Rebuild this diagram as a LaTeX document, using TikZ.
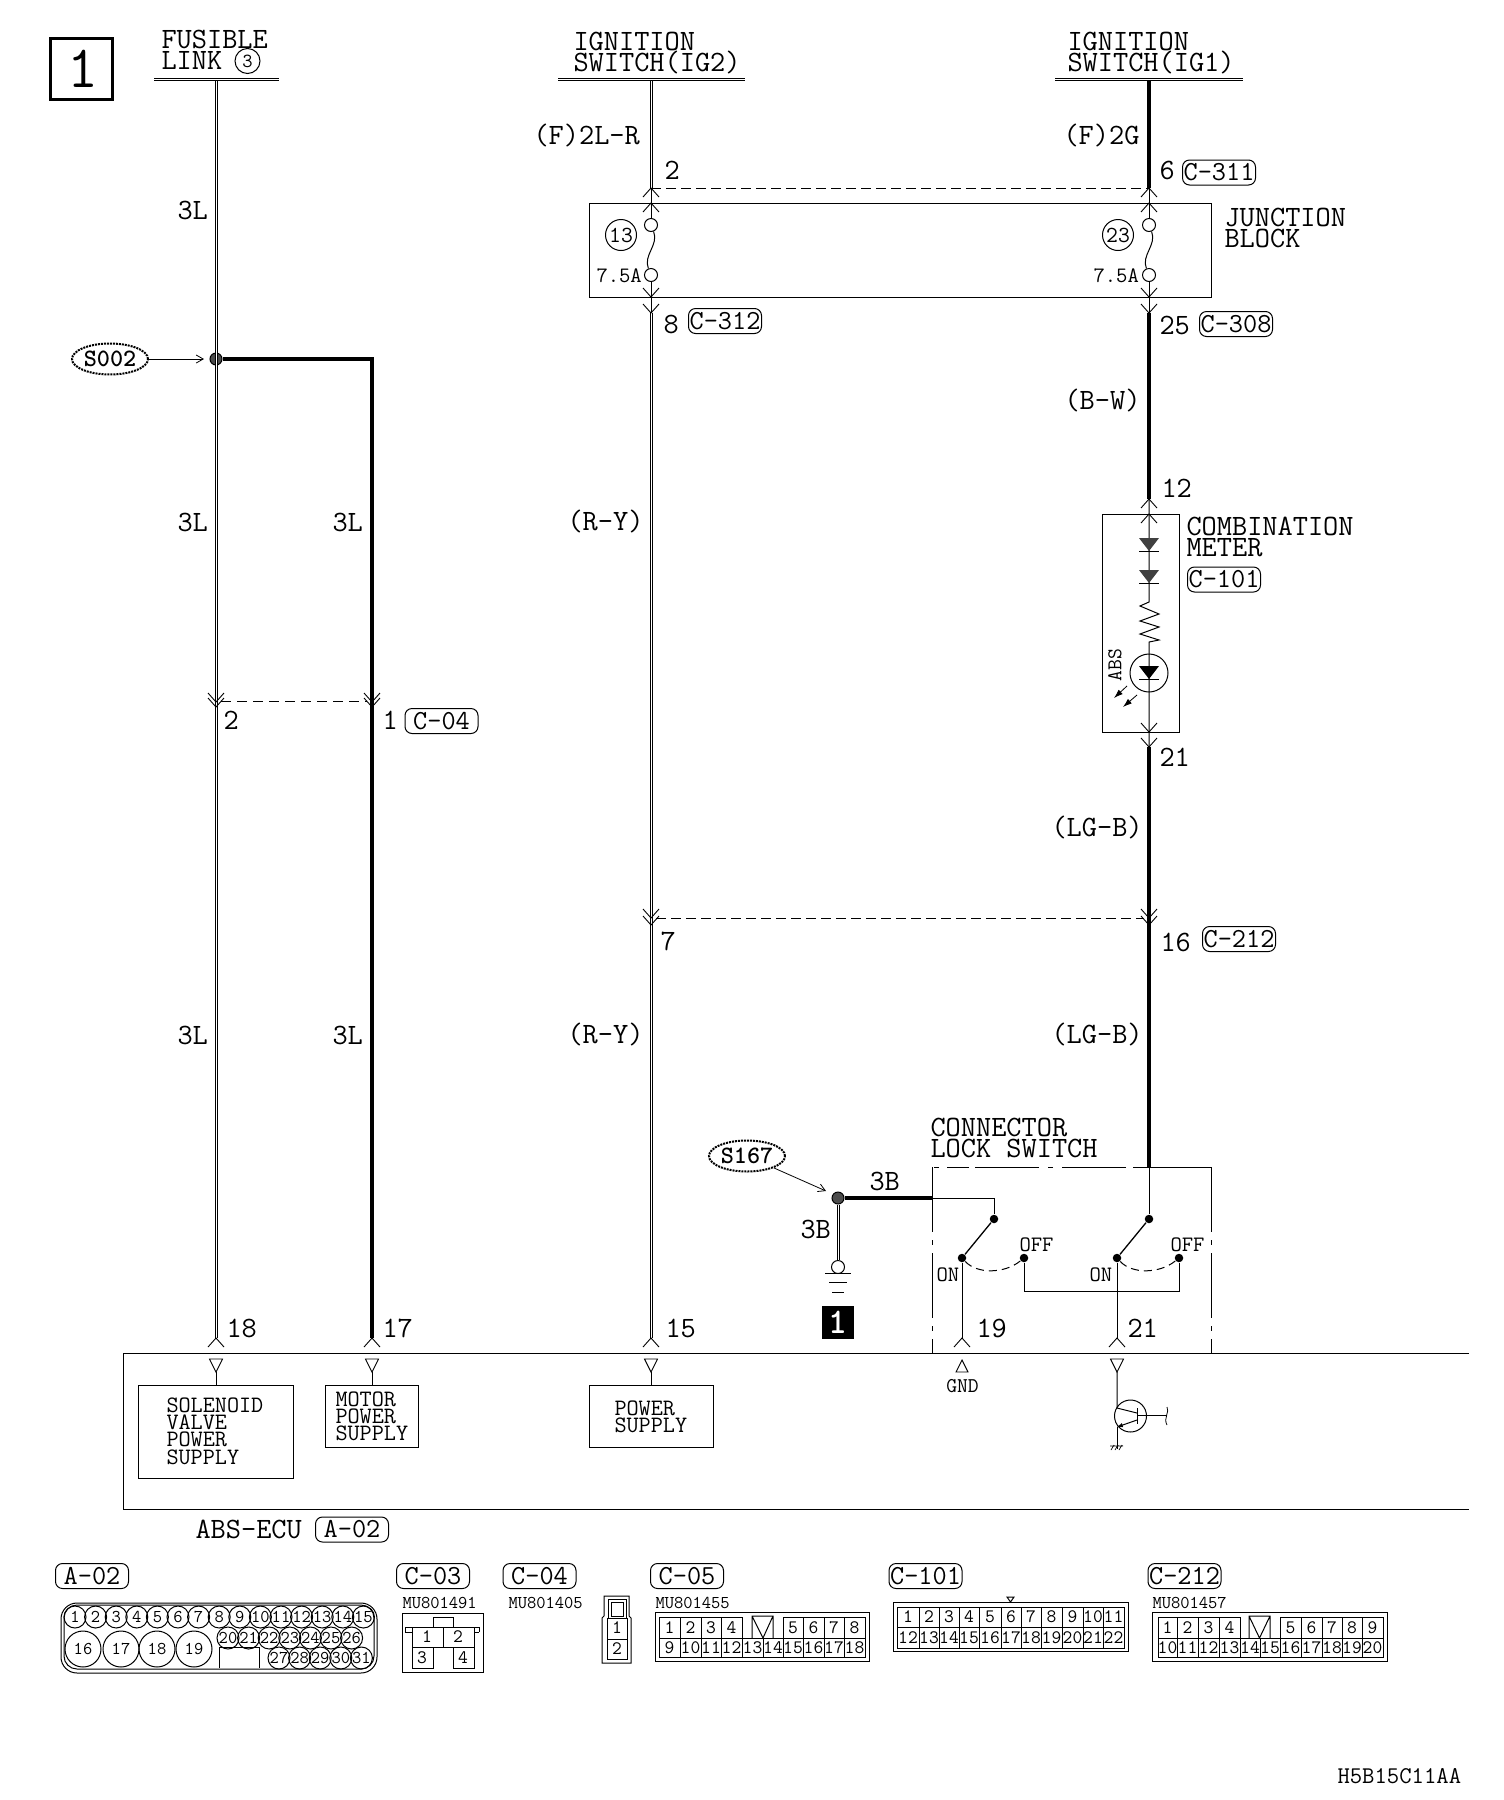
\documentclass[tikz,border=0pt]{standalone}
\usepackage{amsmath, amssymb}
\usetikzlibrary{shapes.geometric, arrows.meta}

\tikzset{
    lbl/.style={anchor=north west, inner sep=0pt, align=left, font=\fontsize{29.5}{21}\selectfont\ttfamily},
    lblsmall/.style={anchor=north west, inner sep=0pt, align=left, font=\fontsize{23.5}{17.3}\selectfont\ttfamily},
    lblcode/.style={anchor=north west, inner sep=0pt, font=\fontsize{18}{18}\selectfont\ttfamily},
    tagbox/.style={draw, rounded corners=7pt, inner sep=0pt, minimum width=73pt, minimum height=25pt, font=\fontsize{27.5}{27}\selectfont\ttfamily},
    splice/.style={draw, ellipse, densely dotted, line width=2pt, inner sep=0pt, minimum width=76pt, minimum height=31pt, font=\fontsize{25}{25}\selectfont\ttfamily\bfseries},
    jointdot/.style={draw, circle, fill=black!70, inner sep=0pt, minimum size=12pt},
    contact/.style={circle, fill=black, inner sep=0pt, minimum size=8.5pt},
    fuseend/.style={draw, circle, inner sep=0pt, minimum size=13pt},
    ringnum/.style={draw, circle, inner sep=0pt, minimum size=31pt, font=\fontsize{23}{23}\selectfont\ttfamily},
    wirepair/.style={double, double distance=0.6pt, line width=1.2pt},
    wirefull/.style={line width=4pt},
    wirethin/.style={line width=1pt},
    boxline/.style={line width=1pt},
    pinnum/.style={inner sep=0pt, font=\fontsize{19}{19}\selectfont\ttfamily},
    pinsmall/.style={draw, circle, inner sep=0pt, minimum size=22pt, font=\fontsize{18}{18}\selectfont\ttfamily},
    pinbig/.style={draw, circle, inner sep=0pt, minimum size=36pt, font=\fontsize{18}{18}\selectfont\ttfamily},
    sidedash/.style={dash pattern=on 65pt off 8pt on 5pt off 8pt},
    pics/pinup/.style={code={\draw[line width=0.9pt] (-8,9) -- (0,0) -- (8,9);}},
    pics/pindown/.style={code={\draw[line width=0.9pt] (-8,-9) -- (0,0) -- (8,-9);}},
    pics/tridown/.style={code={\draw[line width=0.9pt] (-6.5,0) -- (6.5,0) -- (0,13) -- cycle;}},
}

\begin{document}
\begin{tikzpicture}[x=1pt, y=-1pt, line width=1pt]
    \useasboundingbox (0,0) rectangle (1504,1800);

    % page number box
    \node[draw, line width=3pt, minimum width=62pt, minimum height=61pt, inner sep=0pt] (pagebox) at (81.5,69) {};
    \node[inner sep=0pt, font=\fontsize{60}{60}\selectfont\ttfamily] (pagenum) at (83,69) {1};

    % supply headers
    \node[lbl] (hfuse) at (161,30) {FUSIBLE\\LINK};
    \node[draw, circle, inner sep=0pt, minimum size=25pt, font=\fontsize{20}{20}\selectfont\ttfamily] (ring3) at (247.5,61) {3};
    \node[lbl] (hign2) at (573,32) {IGNITION\\SWITCH(IG2)};
    \node[lbl] (hign1) at (1067,32) {IGNITION\\SWITCH(IG1)};
    \draw[double, double distance=1.5pt, line width=1pt] (154,79.5) coordinate (busa) -- (279,79.5);
    \draw[double, double distance=1.5pt, line width=1pt] (558,79.5) -- (745,79.5);
    \draw[double, double distance=1.5pt, line width=1pt] (1055,79.5) -- (1243,79.5);

    \coordinate (wa0) at (216,81);
    \coordinate (wa1) at (216,1338);
    \coordinate (wb0) at (372,359);
    \coordinate (wb1) at (372,1338);
    \coordinate (wc0) at (651,81);
    \coordinate (wc1) at (651,188);
    \coordinate (wc2) at (651,313);
    \coordinate (wc3) at (651,1338);
    \coordinate (wd0) at (1149,81);
    \coordinate (wd1) at (1149,188);
    \coordinate (wd2) at (1149,313);
    \coordinate (wd3) at (1149,499);
    \coordinate (wd4) at (1149,747);
    \coordinate (wd5) at (1149,1167);

    % splice S002
    \node[jointdot] (j1) at (216,359) {};
    \node[splice] (s002) at (110,359) {S002};
    \draw[-{Straight Barb[length=7pt,width=8pt]}, line width=0.8pt] (s002) -- (204,359) coordinate (s002end);

    % wires
    \draw[wirepair] (wa0) -- (wa1);
    \draw[wirefull] (j1) -- (wb0) -- (wb1);
    \draw[wirepair] (wc0) -- (wc1);
    \draw[wirepair] (wc2) -- (wc3);
    \draw[wirefull] (wd0) -- (wd1);
    \draw[wirefull] (wd2) -- (wd3);
    \draw[wirefull] (wd4) -- (wd5);

    % wire labels
    \node[lbl] (w3l1) at (177,201) {3L};
    \node[lbl] (w3l2) at (177,513) {3L};
    \node[lbl] (w3l3) at (332,513) {3L};
    \node[lbl] (w3l4) at (177,1026) {3L};
    \node[lbl] (w3l5) at (332,1026) {3L};
    \node[lbl] (wf2lr) at (533,124) {(F)2L-R};
    \node[lbl] (wf2g) at (1063,124) {(F)2G};
    \node[lbl] (wry1) at (567,510) {(R-Y)};
    \node[lbl] (wry2) at (567,1023) {(R-Y)};
    \node[lbl] (wbw) at (1064,389) {(B-W)};
    \node[lbl] (wlg1) at (1051,816) {(LG-B)};
    \node[lbl] (wlg2) at (1051,1023) {(LG-B)};

    % junction block
    \draw[boxline] (589,203) rectangle (1211,297);
    \node[lbl] (hjb) at (1224,208) {JUNCTION\\BLOCK};
    \foreach \xw/\rn/\xr/\xa in {651/13/621/596, 1149/23/1118/1093} {
        \node[ringnum] (ring\rn) at (\xr,235) {\rn};
        \node[fuseend] (ft\rn) at (\xw,225) {};
        \node[fuseend] (fb\rn) at (\xw,275) {};
        \node[lblsmall, font=\fontsize{22}{22}\selectfont\ttfamily] (fv\rn) at (\xa,268) {7.5A};
        \draw[wirethin] (\xw,188) -- (ft\rn);
        \draw[wirethin] (ft\rn) .. controls (\xw+8,245) and (\xw-8,255) .. (fb\rn);
        \draw[wirethin] (fb\rn) -- (\xw,313);
        \pic at (\xw,188) {pinup};
        \pic at (\xw,203) {pinup};
        \pic at (\xw,297) {pindown};
        \pic at (\xw,313) {pindown};
    }
    \draw[dash pattern=on 10pt off 5pt, line width=1pt] (wc1) -- (wd1);
    \node[lbl] (p2) at (664,161) {2};
    \node[lbl] (p6) at (1159,161) {6};
    \node[tagbox] (t311) at (1219,172.5) {C-311};
    \node[lbl] (p8) at (663,315) {8};
    \node[tagbox] (t312) at (725,321) {C-312};
    \node[lbl] (p25) at (1159,316) {25};
    \node[tagbox] (t308) at (1236,324) {C-308};

    % C-04 joint
    \pic at (216,702) {pindown};
    \pic at (216,707) {pindown};
    \pic at (372,702) {pindown};
    \pic at (372,707) {pindown};
    \draw[dash pattern=on 10pt off 6pt] (221,701.5) coordinate (c4a) -- (367,701.5) coordinate (c4b);
    \node[lbl] (p2b) at (223,711) {2};
    \node[lbl] (p1) at (382,711) {1};
    \node[tagbox] (t04) at (441.5,721) {C-04};

    % C-212 joint
    \pic at (651,918) {pindown};
    \pic at (651,925) {pindown};
    \pic at (1149,918) {pindown};
    \pic at (1149,925) {pindown};
    \draw[dash pattern=on 10pt off 5pt] (656,918) coordinate (c2a) -- (1144,918) coordinate (c2b);
    \node[lbl] (p7) at (660,932) {7};
    \node[lbl] (p16) at (1160,933) {16};
    \node[tagbox] (t212) at (1239,939) {C-212};

    % combination meter
    \draw[boxline] (1102,514) rectangle (1179,732);
    \node[lbl] (hmeter) at (1186,517) {COMBINATION\\METER};
    \node[tagbox] (t101) at (1224,579.5) {C-101};
    \node[lbl] (p12) at (1161,479) {12};
    \node[lbl] (p21) at (1159,748) {21};
    \pic at (1149,499) {pinup};
    \pic at (1149,514) {pinup};
    \pic at (1149,732) {pindown};
    \pic at (1149,747) {pindown};
    \draw[wirethin] (wd3) -- (1149,602) -- (1140,606) -- (1159,614) -- (1140,621) -- (1159,627) -- (1140,634) -- (1159,640) -- (1149,642) -- (wd4);
    \foreach \ya in {538,570} {
        \fill[black!75] (1139,\ya) -- (1159,\ya) -- (1149,\ya+13) -- cycle;
        \draw[wirethin] (1139,\ya+13) -- (1159,\ya+13);
    }
    \draw[wirethin] (1139,679) -- (1159,679);
    \fill (1139,666) -- (1159,666) -- (1149,679) -- cycle;
    \node[draw, circle, inner sep=0pt, minimum size=38pt] (lamp) at (1149,673) {};
    \node[inner sep=0pt, rotate=90, font=\fontsize{21}{21}\selectfont\ttfamily] (tabs) at (1115,665) {ABS};
    \draw[-{Latex[length=9pt,width=6pt]}, line width=0.8pt] (1127,686) coordinate (la1) -- (1114,698) coordinate (la2);
    \draw[-{Latex[length=9pt,width=6pt]}, line width=0.8pt] (1137,695) coordinate (lb1) -- (1123,707) coordinate (lb2);

    % splice S167 and ground
    \node[jointdot] (j2) at (838,1198) {};
    \node[splice] (s167) at (747,1156) {S167};
    \draw[-{Straight Barb[length=7pt,width=8pt]}, line width=0.8pt] (s167) -- (826,1191) coordinate (s167end);
    \node[draw, circle, inner sep=0pt, minimum size=13pt] (gndring) at (838,1267) {};
    \draw[wirepair] (j2) -- (gndring);
    \draw[wirefull] (j2) -- (932,1198) coordinate (swin);
    \draw[wirethin] (825,1273) coordinate (ga1) -- (851,1273);
    \draw[wirethin] (829,1282) coordinate (ga2) -- (847,1282);
    \draw[wirethin] (832,1292) coordinate (ga3) -- (844,1292);
    \node[lbl] (w3ba) at (869,1172) {3B};
    \node[lbl] (w3bb) at (800,1220) {3B};
    \node[fill=black, text=white, inner sep=0pt, minimum width=32pt, minimum height=33pt, font=\fontsize{36}{36}\selectfont\ttfamily\bfseries] (gnd1) at (838,1322.5) {1};

    % connector lock switch
    \node[lbl] (hlock) at (930,1118) {CONNECTOR\\LOCK SWITCH};
    \draw[sidedash] (932,1167) -- (932,1353);
    \draw[sidedash] (1211,1167) -- (1211,1353);
    \draw (1149,1167) -- (1211,1167);
    \draw[dash pattern=on 16pt off 7pt on 64pt off 9pt on 5pt off 9pt on 64pt off 6pt on 22pt off 8pt on 5pt off 8pt] (1149,1167) -- (932,1167);
    \foreach \i/\xp/\xn/\xf/\xo/\xl in {1/994/962/1024/1019/936, 2/1149/1117/1179/1170/1089} {
        \node[contact] (piv\i) at (\xp,1219) {};
        \node[contact] (on\i) at (\xn,1258) {};
        \node[contact] (off\i) at (\xf,1258) {};
        \node[lblsmall, font=\fontsize{22}{22}\selectfont\ttfamily] (toff\i) at (\xo,1237) {OFF};
        \node[lblsmall, font=\fontsize{22}{22}\selectfont\ttfamily] (ton\i) at (\xl,1267) {ON};
        \draw[line width=1.3pt] (piv\i) -- (on\i);
        \draw[dash pattern=on 8pt off 5pt] (on\i) .. controls (\xn+15,1274) and (\xf-20,1274) .. (off\i);
        \draw[wirethin] (on\i) -- (\xn,1338);
        \pic at (\xn,1338) {pinup};
    }
    \draw[wirethin] (swin) -- (994,1198) -- (piv1);
    \draw[wirethin] (wd5) -- (piv2);
    \draw[wirethin] (off1) -- (1024,1291) -- (1179,1291) -- (off2);
    \node[lbl] (p19) at (976,1319) {19};
    \node[lbl] (p21b) at (1127,1319) {21};

    % ABS-ECU
    \draw[boxline] (1469,1353) -- (123,1353) -- (123,1509) -- (1469,1509);
    \node[lbl] (hecu) at (195,1520) {ABS-ECU};
    \node[tagbox] (t02) at (352,1529.5) {A-02};
    \node[lbl] (p18) at (226,1319) {18};
    \node[lbl] (p17) at (382,1319) {17};
    \node[lbl] (p15) at (665,1319) {15};
    \foreach \xw in {216,372,651} {
        \pic at (\xw,1338) {pinup};
        \pic at (\xw,1359) {tridown};
        \draw[wirethin] (\xw,1372) -- (\xw,1385);
    }
    \draw[boxline] (138,1385) rectangle (293,1478);
    \node[lblsmall] (bsol) at (166,1397) {SOLENOID\\VALVE\\POWER\\SUPPLY};
    \draw[boxline] (325,1385) rectangle (418,1447);
    \node[lblsmall] (bmot) at (335,1391) {MOTOR\\POWER\\SUPPLY};
    \draw[boxline] (589,1385) rectangle (713,1447);
    \node[lblsmall] (bpow) at (614,1400) {POWER\\SUPPLY};

    % GND pin and output transistor
    \draw[line width=0.9pt] (956,1372) -- (968,1372) -- (962,1360) -- cycle;
    \node[inner sep=0pt, font=\fontsize{21}{21}\selectfont\ttfamily] (tgnd) at (962.5,1386) {GND};
    \pic at (1117,1359) {tridown};
    \node[draw, circle, inner sep=0pt, minimum size=32pt] (trans) at (1130.5,1416) {};
    \draw[wirethin] (1117,1372) -- (1117,1408) -- (1137,1413);
    \draw[wirethin] (1137,1408) -- (1137,1424);
    \draw[wirethin, -latex] (1137,1420) -- (1117,1427);
    \draw[wirethin] (1117,1427) -- (1117,1449);
    \draw[line width=0.7pt] (1111,1450) -- (1114,1445) (1115,1450) -- (1118,1445) (1119,1450) -- (1122,1445) (1110,1446) -- (1123,1446);
    \draw[wirethin] (1137,1415) -- (1167,1415);
    \draw[line width=0.8pt] (1167,1407) .. controls (1170,1412) and (1163,1418) .. (1167,1425);

    % connector A-02
    \node[tagbox] (ta02) at (92,1576) {A-02};
    \draw[rounded corners=16pt] (61,1603) rectangle (377,1673);
    \draw[rounded corners=13pt] (64,1605) rectangle (374,1669);
    \foreach \n in {1,...,15} {
        \node[pinsmall] (pa\n) at ({75+20.6*(\n-1)},1617) {\n};
    }
    \foreach \n/\xa in {16/83, 17/121, 18/157, 19/194} {
        \node[pinbig] (pa\n) at (\xa,1649) {\n};
    }
    \foreach \n in {20,...,26} {
        \node[pinsmall] (pa\n) at ({228+20.6*(\n-20)},1638) {\n};
    }
    \foreach \n in {27,...,31} {
        \node[pinsmall] (pa\n) at ({279+20.6*(\n-27)},1658) {\n};
    }
    \draw (219,1668) -- (219,1647) -- (259,1647) -- (259,1668);

    % connector C-03
    \node[tagbox] (tc03) at (433,1576) {C-03};
    \node[lblcode] (mu03) at (402,1597) {MU801491};
    \draw (402,1613) rectangle (483,1672);
    \draw (433,1627) -- (433,1617) -- (453,1617) -- (453,1627);
    \draw (405,1632) -- (405,1627) -- (479,1627) -- (479,1632) (405,1632) -- (412,1632) (474,1632) -- (479,1632);
    \draw (412,1627) rectangle (474,1647);
    \draw (443,1627) -- (443,1647);
    \draw (412,1647) rectangle (433,1668);
    \draw (453,1647) rectangle (474,1668);
    \node[pinnum] (pc31) at (427,1637) {1};
    \node[pinnum] (pc32) at (458,1637) {2};
    \node[pinnum] (pc33) at (422,1658) {3};
    \node[pinnum] (pc34) at (463,1658) {4};

    % connector C-04
    \node[tagbox] (tc04) at (539.5,1576) {C-04};
    \node[lblcode] (mu04) at (508,1597) {MU801405};
    \draw (602,1663) -- (602,1618) -- (604,1616) -- (604,1596) -- (629,1596) -- (629,1616) -- (631,1618) -- (631,1663) -- cycle;
    \draw (608,1618) -- (608,1599) -- (626,1599) -- (626,1618);
    \draw (611,1602) rectangle (623,1616);
    \draw (607,1618) rectangle (627,1659);
    \draw (607,1639) -- (627,1639);
    \node[pinnum] (pc41) at (617,1628) {1};
    \node[pinnum] (pc42) at (617,1649) {2};

    % connector C-05
    \node[tagbox] (tc05) at (687,1576) {C-05};
    \node[lblcode] (mu05) at (655,1597) {MU801455};
    \draw (655,1612) rectangle (869,1661);
    \foreach \xa/\xb/\t in {659/680/1, 680/701/2, 701/721/3, 721/742/4, 783/803/5, 803/824/6, 824/844/7, 844/865/8} {
        \draw (\xa,1617) rectangle (\xb,1638);
        \node[pinnum] (pc5a\t) at ({(\xa+\xb)/2},1627.5) {\t};
    }
    \foreach \xa/\xb/\t in {659/680/9, 680/701/10, 701/721/11, 721/742/12, 742/763/13, 763/783/14, 783/803/15, 803/824/16, 824/844/17, 844/865/18} {
        \draw (\xa,1638) rectangle (\xb,1657);
        \node[pinnum] (pc5a\t) at ({(\xa+\xb)/2},1647.5) {\t};
    }
    \draw (752,1638) -- (752,1616) -- (773,1616) -- (773,1638) (752,1616) -- (763,1638) -- (773,1616);

    % connector C-101
    \node[tagbox] (tc101) at (925.5,1576) {C-101};
    \draw (893,1602) rectangle (1128,1651);
    \draw (1007,1597) -- (1014,1597) -- (1010.5,1602) -- cycle;
    \foreach \xa/\xb/\t/\u in {897/919/1/12, 919/939/2/13, 939/959/3/14, 959/979/4/15, 979/1001/5/16, 1001/1021/6/17, 1021/1041/7/18, 1041/1062/8/19, 1062/1083/9/20, 1083/1103/10/21, 1103/1124/11/22} {
        \draw (\xa,1607) rectangle (\xb,1627);
        \draw (\xa,1627) rectangle (\xb,1648);
        \node[pinnum] (pm\t) at ({(\xa+\xb)/2},1617) {\t};
        \node[pinnum] (pm\u) at ({(\xa+\xb)/2},1638) {\u};
    }

    % connector C-212
    \node[tagbox] (tc212) at (1184.5,1576) {C-212};
    \node[lblcode] (mu212) at (1152,1597) {MU801457};
    \draw (1152,1612) rectangle (1387,1661);
    \foreach \xa/\xb/\t in {1158/1177/1, 1177/1198/2, 1198/1219/3, 1219/1240/4, 1280/1301/5, 1301/1322/6, 1322/1342/7, 1342/1362/8, 1362/1383/9} {
        \draw (\xa,1617) rectangle (\xb,1638);
        \node[pinnum] (pj\t) at ({(\xa+\xb)/2},1627.5) {\t};
    }
    \foreach \xa/\xb/\t in {1158/1177/10, 1177/1198/11, 1198/1219/12, 1219/1240/13, 1240/1260/14, 1260/1280/15, 1280/1301/16, 1301/1322/17, 1322/1342/18, 1342/1362/19, 1362/1383/20} {
        \draw (\xa,1638) rectangle (\xb,1657);
        \node[pinnum] (pj\t) at ({(\xa+\xb)/2},1647.5) {\t};
    }
    \draw (1249,1638) -- (1249,1616) -- (1270,1616) -- (1270,1638) (1249,1616) -- (1259.5,1638) -- (1270,1616);

    % drawing code
    \node[lblsmall, font=\fontsize{24}{24}\selectfont\ttfamily] (dwgcode) at (1337,1768) {H5B15C11AA};
\end{tikzpicture}
\end{document}
